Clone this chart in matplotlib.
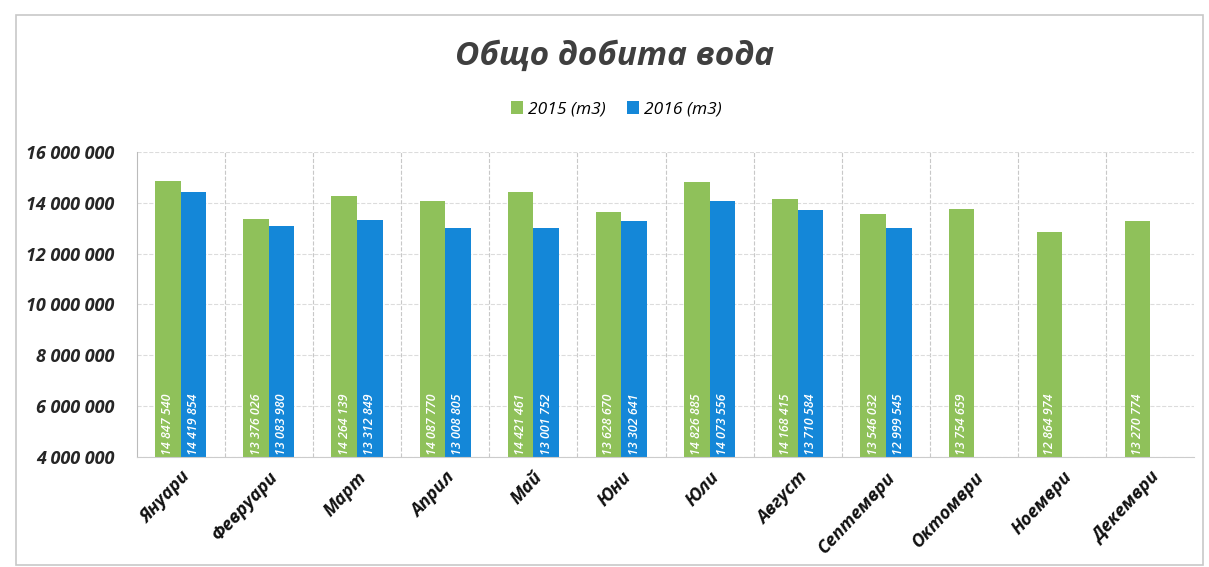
import numpy as np
import matplotlib.pyplot as plt
import matplotlib.transforms as mtransforms
from matplotlib.patches import Rectangle

plt.rcParams['font.family'] = ['Open Sans', 'DejaVu Sans']

# Data
months = ['Януари', 'Февруари', 'Март', 'Април', 'Май', 'Юни',
          'Юли', 'Август', 'Септември', 'Октомври', 'Ноември', 'Декември']
water_2015 = [14847540, 13376026, 14264139, 14087770, 14421461, 13628670,
              14826885, 14168415, 13546032, 13754659, 12864974, 13270774]
water_2016 = [14419854, 13083980, 13312849, 13008805, 13001752, 13302641,
              14073556, 13710584, 12999545, 0, 0, 0]

c15 = '#8fc15a'
c16 = '#1487d8'

fig = plt.figure(figsize=(12.09, 5.67), dpi=100)
ax = fig.add_axes([0.113, 0.194, 0.875, 0.538])

x = np.arange(len(months))
w = 0.29
b1 = ax.bar(x - w / 2, water_2015, w, color=c15, label='2015 (m3)')
b2 = ax.bar(x + w / 2, water_2016, w, color=c16, label='2016 (m3)')

def fmt(v):
    return f'{v:,}'.replace(',', ' ')

# value labels inside bars, vertical
for bars, vals in ((b1, water_2015), (b2, water_2016)):
    for bar, v in zip(bars, vals):
        if v == 0:
            continue
        ax.text(bar.get_x() + bar.get_width() / 2, 4080000, fmt(v),
                rotation=90, ha='center', va='bottom', color='white',
                fontsize=9, fontstyle='italic', fontweight='semibold')

ax.set_ylim(4000000, 16000000)
ax.set_xlim(-0.5, len(months) - 0.5)
ax.set_yticks(np.arange(4000000, 16000001, 2000000))
ax.set_yticklabels([fmt(v) for v in range(4000000, 16000001, 2000000)],
                   fontsize=13, fontweight='bold', fontstyle='italic',
                   color='#262626')
ax.set_xticks(x)
ax.set_xticklabels(months, rotation=47, ha='right', rotation_mode='anchor',
                   fontsize=13, fontweight='bold', fontstyle='italic',
                   color='#111111')
shift = mtransforms.ScaledTranslation(14 / 100, 0, fig.dpi_scale_trans)
for lab in ax.get_xticklabels():
    lab.set_transform(lab.get_transform() + shift)

ax.grid(axis='y', color='#dcdcdc', linewidth=0.8, linestyle='--')
for b in np.arange(0.5, len(months) - 0.5, 1):
    ax.axvline(b, color='#c8c8c8', linewidth=0.8, linestyle='--', zorder=0)
ax.set_axisbelow(True)
ax.tick_params(axis='y', length=0, pad=16)
ax.tick_params(axis='x', length=0, pad=8)
for s in ['top', 'right']:
    ax.spines[s].set_visible(False)
ax.spines['left'].set_color('#bbbbbb')
ax.spines['bottom'].set_color('#cccccc')

fig.text(0.508, 0.90, 'Общо добита вода', ha='center', va='center',
         fontsize=24, fontweight='bold', fontstyle='italic', color='#3f3f3f')
leg = fig.legend(loc='center', bbox_to_anchor=(0.51, 0.807), ncol=2,
                 frameon=False, handlelength=0.7, handleheight=0.7,
                 columnspacing=1.2, handletextpad=0.3,
                 prop={'size': 12.5, 'style': 'italic'})

# chart border
fig.patches.append(Rectangle((0.013, 0.004), 0.982, 0.97,
                             transform=fig.transFigure, fill=False,
                             edgecolor='#c8c8c8', linewidth=1.2))

fig.savefig('out.png', dpi=100)
